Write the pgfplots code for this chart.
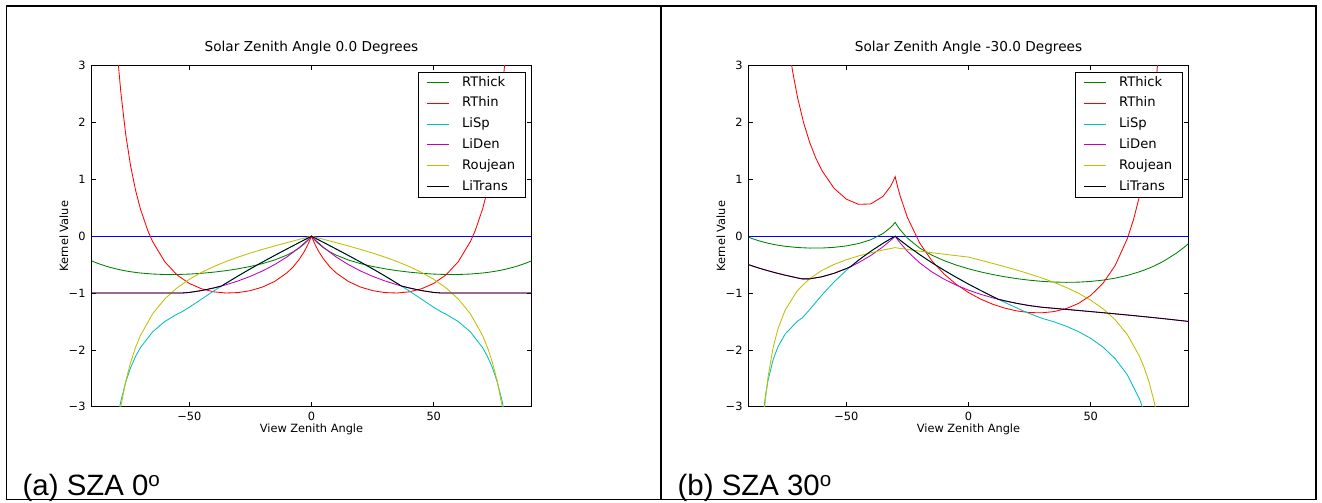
\documentclass[border=0pt]{standalone}
\usepackage{fontspec}
\setmainfont{DejaVu Sans}
\newfontfamily\capfont{Liberation Sans}
\usepackage{pgfplots}
\pgfplotsset{compat=1.18}
\definecolor{kblue}{rgb}{0,0,1}
\definecolor{kgreen}{rgb}{0,0.5,0}
\definecolor{kred}{rgb}{1,0,0}
\definecolor{kcyan}{rgb}{0,0.75,0.75}
\definecolor{kmag}{rgb}{0.75,0,0.75}
\definecolor{kyel}{rgb}{0.75,0.75,0}
\pgfplotsset{
  kern/.style={
    scale only axis, width=440bp, height=341bp,
    xmin=-90, xmax=90, ymin=-3, ymax=3,
    xtick={-50,0,50}, xticklabels={−50,0,50},
    ytick={-3,-2,-1,0,1,2,3}, yticklabels={−3,−2,−1,0,1,2,3},
    tick align=inside, major tick length=4.5bp,
    every tick/.style={black, line width=0.6bp},
    axis line style={black, line width=0.8bp},
    tick label style={font=\fontsize{11.4}{13}\selectfont},
    xticklabel style={anchor=base, yshift=-14bp},
    yticklabel style={anchor=east, xshift=-2.5bp},
    label style={font=\fontsize{11.4}{13}\selectfont},
    xlabel={View Zenith Angle},
    ylabel={Kernel Value},
    xlabel style={at={(axis description cs:0.5,-0.0751)}, anchor=base},
    ylabel style={at={(axis description cs:-0.0530,0.5)}, anchor=base},
    title style={at={(axis description cs:0.5,1.0249)}, anchor=base, font=\fontsize{13.7}{16}\selectfont},
    legend style={at={(axis description cs:0.9866,0.9824)}, anchor=north east,
      draw=black, line width=0.8bp, fill=white,
      font=\fontsize{13.2}{15}\selectfont,
      inner xsep=8bp, inner ysep=0bp, row sep=0bp, column sep=11bp,
      nodes={inner xsep=2bp, inner ysep=3.6bp, text height=10.3bp, text depth=3.3bp}},
    legend cell align=left,
    legend image code/.code={\draw[#1, line width=1bp] (0bp,0bp) -- (22bp,0bp);},
  }
}
\begin{document}
\begin{tikzpicture}
\useasboundingbox (0bp,0bp) rectangle (1322bp,503bp);
\draw[line width=1.3bp] (6.5bp,3.5bp) rectangle (1316bp,497bp);
\draw[line width=1.3bp] (661bp,3.5bp) -- (661bp,497bp);
% ---------------- panel a ----------------
\begin{axis}[kern, at={(91.5bp,96.3bp)}, anchor=south west,
  title={Solar Zenith Angle 0.0 Degrees}]
\addplot[color=kblue, line width=0.85bp, forget plot] coordinates {(-90,0) (90,0)};
\addplot[color=kgreen, line width=0.85bp] coordinates {
(-90,-0.4335) (-88,-0.4686) (-86,-0.4999) (-84,-0.5279) (-82,-0.5527) (-80,-0.5745) (-78,-0.5937) (-76,-0.6105) (-74,-0.6249) (-72,-0.6372) (-70,-0.6476) (-65,-0.6657) (-60,-0.6740) (-55,-0.6740) (-50,-0.6667) (-45,-0.6527) (-40,-0.6325) (-35,-0.6062) (-30,-0.5732) (-25,-0.5325) (-20,-0.4820) (-15,-0.4175) (-10,-0.3310) (-7.5,-0.2749) (-5,-0.2056) (-3,-0.1370) (-2,-0.0967) (-1,-0.0514) (0,0) (1,-0.0514) (2,-0.0967) (3,-0.1370) (5,-0.2056) (7.5,-0.2749) (10,-0.3310) (15,-0.4175) (20,-0.4820) (25,-0.5325) (30,-0.5732) (35,-0.6062) (40,-0.6325) (45,-0.6527) (50,-0.6667) (55,-0.6740) (60,-0.6740) (65,-0.6657) (70,-0.6476) (72,-0.6372) (74,-0.6249) (76,-0.6105) (78,-0.5937) (80,-0.5745) (82,-0.5527) (84,-0.5279) (86,-0.4999) (88,-0.4686) (90,-0.4335)};
\addlegendentry{RThick}
\addplot[color=kred, line width=0.85bp] coordinates {
(-80,3.590) (-79,3.014) (-78,2.5348) (-76,1.7884) (-74,1.2360) (-72,0.8131) (-70,0.4810) (-67,0.1013) (-65,-0.0947) (-60,-0.4512) (-55,-0.6813) (-50,-0.8309) (-45,-0.9251) (-40,-0.9785) (-35,-0.9993) (-30,-0.9921) (-25,-0.9577) (-20,-0.8942) (-15,-0.7944) (-10,-0.6429) (-7.5,-0.5386) (-5,-0.4061) (-3,-0.2719) (-2,-0.1924) (-1,-0.1025) (0,0) (1,-0.1025) (2,-0.1924) (3,-0.2719) (5,-0.4061) (7.5,-0.5386) (10,-0.6429) (15,-0.7944) (20,-0.8942) (25,-0.9577) (30,-0.9921) (35,-0.9993) (40,-0.9785) (45,-0.9251) (50,-0.8309) (55,-0.6813) (60,-0.4512) (65,-0.0947) (67,0.1013) (70,0.4810) (72,0.8131) (74,1.2360) (76,1.7884) (78,2.5348) (79,3.014) (80,3.590)};
\addlegendentry{RThin}
\addplot[color=kcyan, line width=0.85bp] coordinates {
(-79,-3.1204) (-78,-2.9049) (-76,-2.5668) (-74,-2.3140) (-72,-2.1180) (-70,-1.9619) (-65,-1.6831) (-60,-1.5000) (-55,-1.3717) (-53.13,-1.3333) (-50,-1.2513) (-45,-1.1069) (-40,-0.9640) (-35,-0.8288) (-30,-0.6985) (-25,-0.5737) (-20,-0.4537) (-15,-0.3371) (-10,-0.2233) (-5,-0.1112) (-2,-0.0444) (0,0) (2,-0.0444) (5,-0.1112) (10,-0.2233) (15,-0.3371) (20,-0.4537) (25,-0.5737) (30,-0.6985) (35,-0.8288) (40,-0.9640) (45,-1.1069) (50,-1.2513) (53.13,-1.3333) (55,-1.3717) (60,-1.5000) (65,-1.6831) (70,-1.9619) (72,-2.1180) (74,-2.3140) (76,-2.5668) (78,-2.9049) (79,-3.1204)};
\addlegendentry{LiSp}
\addplot[color=kmag, line width=0.85bp] coordinates {
(-90,-1) (-53.13,-1) (-50,-0.9895) (-45,-0.9567) (-40,-0.9108) (-35,-0.8548) (-30,-0.7867) (-25,-0.7059) (-20,-0.6107) (-15,-0.4976) (-10,-0.3628) (-5,-0.1999) (-2,-0.0851) (-1,-0.0435) (0,0) (1,-0.0435) (2,-0.0851) (5,-0.1999) (10,-0.3628) (15,-0.4976) (20,-0.6107) (25,-0.7059) (30,-0.7867) (35,-0.8548) (40,-0.9108) (45,-0.9567) (50,-0.9895) (53.13,-1) (90,-1)};
\addlegendentry{LiDen}
\addplot[color=kyel, line width=0.85bp] coordinates {
(-79,-3.2751) (-78,-2.9950) (-76,-2.5533) (-74,-2.2202) (-72,-1.9593) (-70,-1.7491) (-65,-1.3653) (-60,-1.1027) (-55,-0.9092) (-50,-0.7587) (-45,-0.6366) (-40,-0.5342) (-35,-0.4458) (-30,-0.3676) (-25,-0.2969) (-20,-0.2317) (-15,-0.1706) (-10,-0.1123) (-5,-0.0557) (0,0) (5,-0.0557) (10,-0.1123) (15,-0.1706) (20,-0.2317) (25,-0.2969) (30,-0.3676) (35,-0.4458) (40,-0.5342) (45,-0.6366) (50,-0.7587) (55,-0.9092) (60,-1.1027) (65,-1.3653) (70,-1.7491) (72,-1.9593) (74,-2.2202) (76,-2.5533) (78,-2.9950) (79,-3.2751)};
\addlegendentry{Roujean}
\addplot[color=black, line width=0.85bp] coordinates {
(-90,-1) (-53.13,-1) (-50,-0.9895) (-45,-0.9567) (-40,-0.9108) (-36.8,-0.877) (-35,-0.8288) (-30,-0.6985) (-25,-0.5737) (-20,-0.4537) (-15,-0.3371) (-10,-0.2233) (-5,-0.1112) (0,0) (5,-0.1112) (10,-0.2233) (15,-0.3371) (20,-0.4537) (25,-0.5737) (30,-0.6985) (35,-0.8288) (36.8,-0.877) (40,-0.9108) (45,-0.9567) (50,-0.9895) (53.13,-1) (90,-1)};
\addlegendentry{LiTrans}
\end{axis}
% ---------------- panel b ----------------
\begin{axis}[kern, at={(748.5bp,96.3bp)}, anchor=south west,
  title={Solar Zenith Angle -30.0 Degrees}]
\addplot[color=kblue, line width=0.85bp, forget plot] coordinates {(-90,0) (90,0)};
\addplot[color=kgreen, line width=0.85bp] coordinates {
(-90,-0.0175) (-88,-0.0495) (-86,-0.0776) (-84,-0.1022) (-82,-0.1236) (-80,-0.1422) (-78,-0.1581) (-75,-0.1775) (-70,-0.1991) (-65,-0.2090) (-60,-0.2080) (-55,-0.1959) (-50,-0.1711) (-45,-0.1296) (-40,-0.0631) (-35,0.0463) (-32,0.1487) (-31,0.1926) (-30,0.2430) (-29,0.1749) (-28,0.1144) (-25,-0.0332) (-20,-0.2081) (-15,-0.3332) (-10,-0.4297) (-5,-0.5080) (0,-0.5732) (5,-0.6285) (10,-0.6755) (15,-0.7153) (20,-0.7482) (25,-0.7746) (30,-0.7942) (35,-0.8067) (40,-0.8117) (45,-0.8083) (50,-0.7958) (55,-0.7730) (60,-0.7382) (65,-0.6898) (70,-0.6252) (72,-0.5942) (74,-0.5600) (76,-0.5222) (78,-0.4805) (80,-0.4348) (85,-0.2998) (88,-0.2024) (90,-0.1296)};
\addlegendentry{RThick}
\addplot[color=kred, line width=0.85bp] coordinates {
(-73,3.1864) (-72,2.9125) (-70,2.4528) (-67.5,2.0028) (-65,1.6530) (-62.5,1.3772) (-60,1.1575) (-55,0.8430) (-50,0.6522) (-45,0.5608) (-40,0.5676) (-35,0.6998) (-32,0.8716) (-31,0.9518) (-30,1.0472) (-29,0.8701) (-28,0.7129) (-25,0.3304) (-20,-0.1179) (-15,-0.4312) (-10,-0.6654) (-5,-0.8474) (0,-0.9921) (5,-1.1076) (10,-1.1987) (15,-1.2680) (20,-1.3164) (25,-1.3437) (30,-1.3480) (35,-1.3265) (40,-1.2740) (45,-1.1829) (50,-1.0411) (55,-0.8294) (60,-0.5151) (65,-0.0396) (67.5,0.2914) (70,0.7150) (72,1.1462) (74,1.6928) (76,2.4039) (77,2.8447) (78,3.3612)};
\addlegendentry{RThin}
\addplot[color=kcyan, line width=0.85bp] coordinates {
(-84,-3.1265) (-83,-2.7884) (-82,-2.5355) (-80,-2.1833) (-78,-1.9504) (-75,-1.7205) (-70,-1.4967) (-68,-1.4362) (-65,-1.2931) (-60,-1.0369) (-55,-0.8047) (-50,-0.6010) (-48,-0.5268) (-45,-0.4226) (-40,-0.2653) (-35,-0.1254) (-32,-0.0486) (-31,-0.0241) (-30,0) (-29,-0.0351) (-28,-0.0695) (-25,-0.1689) (-20,-0.3233) (-15,-0.4660) (-10,-0.5989) (-5,-0.7240) (0,-0.8429) (5,-0.9556) (10,-1.0640) (12,-1.1062) (15,-1.1682) (20,-1.2680) (25,-1.3621) (30,-1.4434) (35,-1.5071) (40,-1.5842) (45,-1.6788) (50,-1.7975) (55,-1.9505) (60,-2.1547) (65,-2.4409) (70,-2.8705) (72,-3.1091)};
\addlegendentry{LiSp}
\addplot[color=kmag, line width=0.85bp] coordinates {
(-90,-0.5) (-88,-0.5293) (-86,-0.5570) (-84,-0.5832) (-82,-0.6080) (-80,-0.6316) (-78,-0.6540) (-75,-0.6857) (-70,-0.7340) (-68,-0.7514) (-65,-0.7507) (-60,-0.7144) (-55,-0.6525) (-50,-0.5697) (-48,-0.5309) (-45,-0.4663) (-40,-0.3400) (-35,-0.1867) (-32,-0.0792) (-31,-0.0404) (-30,0) (-29,-0.0596) (-28,-0.1157) (-25,-0.2660) (-20,-0.4688) (-15,-0.6282) (-10,-0.7563) (-5,-0.8615) (0,-0.9492) (5,-1.0228) (10,-1.0854) (12,-1.1077) (15,-1.1387) (20,-1.1839) (25,-1.2215) (30,-1.2500) (35,-1.2689) (40,-1.2879) (45,-1.3070) (50,-1.3264) (55,-1.3460) (60,-1.3660) (65,-1.3865) (70,-1.4076) (75,-1.4294) (80,-1.4519) (85,-1.4754) (88,-1.4900) (90,-1.5)};
\addlegendentry{LiDen}
\addplot[color=kyel, line width=0.85bp] coordinates {
(-84,-3.3105) (-83,-2.8338) (-82,-2.4758) (-80,-1.9733) (-78,-1.6370) (-75,-1.2986) (-70,-0.9560) (-65,-0.7462) (-60,-0.6027) (-55,-0.4969) (-50,-0.4147) (-45,-0.3479) (-40,-0.2920) (-35,-0.2436) (-32,-0.2174) (-30,-0.2009) (-28,-0.2141) (-25,-0.2329) (-20,-0.2625) (-15,-0.2902) (-10,-0.3167) (-5,-0.3423) (0,-0.3676) (5,-0.4233) (10,-0.4798) (15,-0.5381) (20,-0.5993) (25,-0.6644) (30,-0.7351) (35,-0.8133) (40,-0.9017) (45,-1.0042) (50,-1.1263) (55,-1.2767) (60,-1.4702) (65,-1.7328) (70,-2.1167) (72,-2.3269) (74,-2.5877) (76,-2.9209) (77,-3.1251)};
\addlegendentry{Roujean}
\addplot[color=black, line width=0.85bp] coordinates {
(-90,-0.5) (-88,-0.5293) (-86,-0.5570) (-84,-0.5832) (-82,-0.6080) (-80,-0.6316) (-78,-0.6540) (-75,-0.6857) (-70,-0.7340) (-68,-0.7514) (-65,-0.7507) (-60,-0.7144) (-55,-0.6525) (-50,-0.5697) (-48,-0.5280) (-45,-0.4226) (-40,-0.2653) (-35,-0.1254) (-32,-0.0486) (-31,-0.0241) (-30,0) (-29,-0.0351) (-28,-0.0695) (-25,-0.1689) (-20,-0.3233) (-15,-0.4660) (-10,-0.5989) (-5,-0.7240) (0,-0.8429) (5,-0.9556) (10,-1.0640) (12,-1.1070) (15,-1.1387) (20,-1.1839) (25,-1.2215) (30,-1.2500) (35,-1.2689) (40,-1.2879) (45,-1.3070) (50,-1.3264) (55,-1.3460) (60,-1.3660) (65,-1.3865) (70,-1.4076) (75,-1.4294) (80,-1.4519) (85,-1.4754) (88,-1.4900) (90,-1.5)};
\addlegendentry{LiTrans}
\end{axis}
% ---------------- captions ----------------
\node[anchor=base west, inner sep=0pt, font=\capfont\fontsize{29.5}{34}\selectfont] at (22.5bp,8bp) {(a) SZA 0\textsuperscript{o}};
\node[anchor=base west, inner sep=0pt, font=\capfont\fontsize{29.5}{34}\selectfont] at (677.5bp,8bp) {(b) SZA 30\textsuperscript{o}};
\end{tikzpicture}
\end{document}
